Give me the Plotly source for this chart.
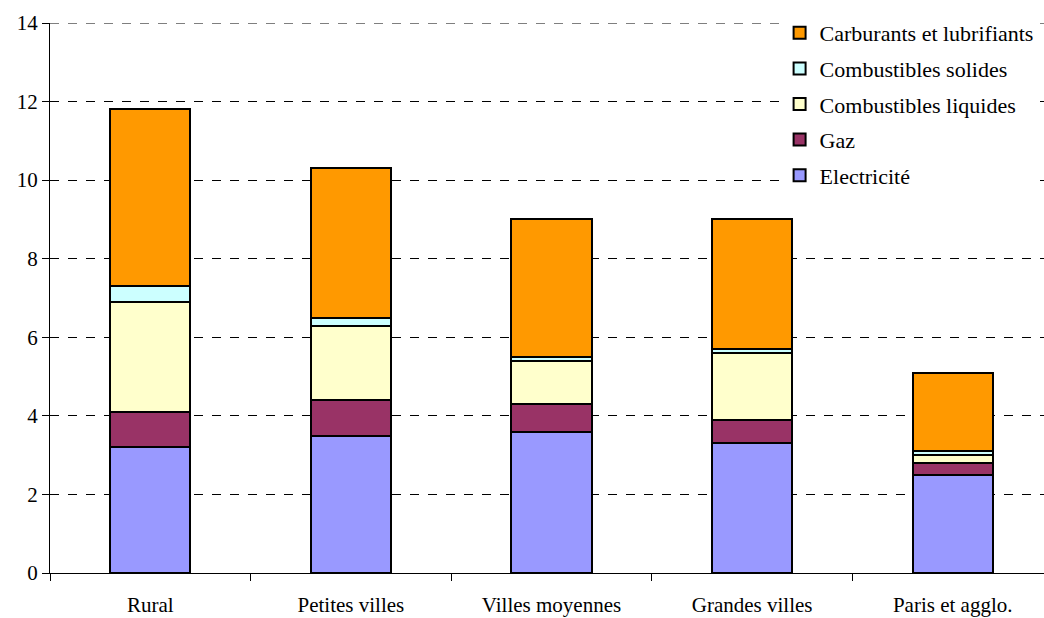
import plotly.graph_objects as go

categories = ["Rural", "Petites villes", "Villes moyennes", "Grandes villes", "Paris et agglo."]

electricite = [3.2, 3.5, 3.6, 3.3, 2.5]
gaz = [0.9, 0.9, 0.7, 0.6, 0.3]
combustibles_liquides = [2.8, 1.9, 1.1, 1.7, 0.2]
combustibles_solides = [0.4, 0.2, 0.1, 0.1, 0.1]
carburants = [4.5, 3.8, 3.5, 3.3, 2.0]

y_ticks = [0, 2, 4, 6, 8, 10, 12, 14]
y_max = 14

series = [
    ("Electricité", electricite, "#9999FF"),
    ("Gaz", gaz, "#993366"),
    ("Combustibles liquides", combustibles_liquides, "#FFFFCC"),
    ("Combustibles solides", combustibles_solides, "#CCFFFF"),
    ("Carburants et lubrifiants", carburants, "#FF9900"),
]

font_family = "Liberation Serif"

fig = go.Figure()
for i, (name, values, color) in enumerate(series):
    fig.add_trace(go.Bar(
        x=categories,
        y=values,
        name=name,
        legendgroup=name,
        legendrank=1000 - i,  # top of the stack listed first
        width=0.4,
        marker=dict(color=color, line=dict(color="black", width=2)),
    ))

# dashed gridline along the top edge of the plot area
fig.add_shape(
    type="line",
    xref="paper", x0=0, x1=1,
    yref="y", y0=y_max, y1=y_max,
    line=dict(color="black", width=1, dash="dash"),
    layer="below",
)

fig.update_layout(
    width=1044,
    height=618,
    barmode="stack",
    plot_bgcolor="white",
    paper_bgcolor="white",
    margin=dict(l=50, r=0, t=23, b=45),
    font=dict(family=font_family, size=20, color="black"),
    legend=dict(
        traceorder="grouped",
        x=0.734,
        xanchor="left",
        y=1.02,
        yanchor="top",
        bgcolor="white",
        borderwidth=0,
        tracegroupgap=4,
        font=dict(family=font_family, size=22, color="black"),
        itemwidth=30,
    ),
    showlegend=True,
)

fig.update_xaxes(
    type="category",
    range=[-0.5, 4.455],
    showline=True,
    linecolor="black",
    linewidth=1,
    ticks="outside",
    tickson="boundaries",
    ticklen=7,
    tickcolor="black",
    showgrid=False,
    ticklabelstandoff=13,
    tickfont=dict(family=font_family, size=21, color="black"),
)

fig.update_yaxes(
    range=[0, y_max],
    tickvals=y_ticks,
    showline=True,
    linecolor="black",
    linewidth=1,
    ticks="outside",
    ticklen=7,
    tickcolor="black",
    showgrid=True,
    gridcolor="black",
    griddash="dash",
    gridwidth=1,
    zeroline=False,
    tickfont=dict(family=font_family, size=21, color="black"),
)

fig.write_html("out.html")
